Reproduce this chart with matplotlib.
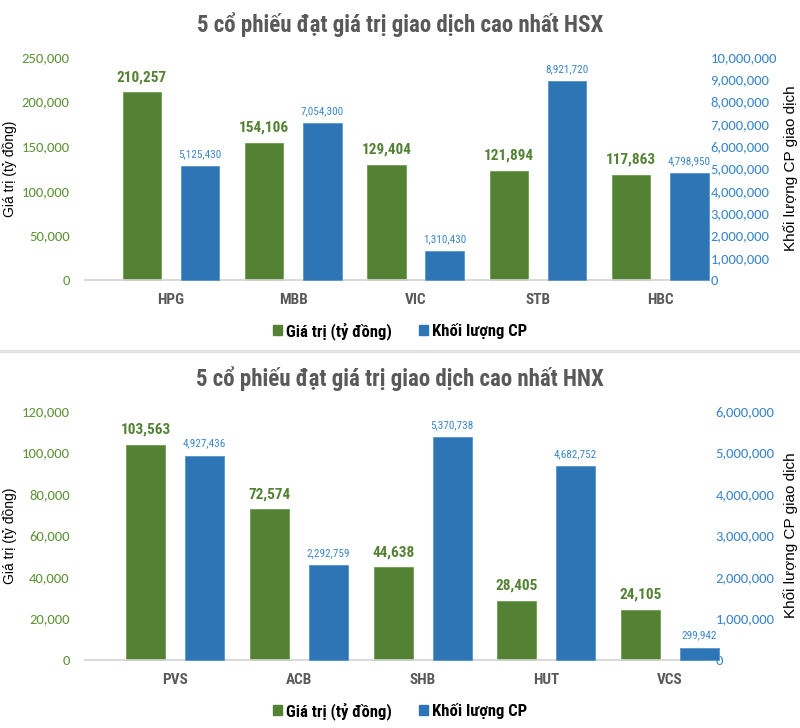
import matplotlib
matplotlib.use("Agg")
import matplotlib.pyplot as plt
from matplotlib import font_manager as fm
from matplotlib.lines import Line2D
from matplotlib.patches import Patch
import numpy as np

# HSX data
hsx_tickers = ["HPG", "MBB", "VIC", "STB", "HBC"]
hsx_value = [210257, 154106, 129404, 121894, 117863]
hsx_volume = [5125430, 7054300, 1310430, 8921720, 4798950]

# HNX data
hnx_tickers = ["PVS", "ACB", "SHB", "HUT", "VCS"]
hnx_value = [103563, 72574, 44638, 28405, 24105]
hnx_volume = [4927436, 2292759, 5370738, 4682752, 299942]

GREEN = "#548235"
BLUE = "#2E75B6"
GREEN_TXT = "#5E9438"
BLUE_TXT = "#3A86CC"
GRAY = "#595959"

installed = {f.name for f in fm.fontManager.ttflist}
NARROW = [f for f in ["Roboto Condensed", "Barlow Semi Condensed"] if f in installed] + ["DejaVu Sans"]
TICKF = [f for f in ["Carlito", "Lato"] if f in installed] + ["DejaVu Sans"]
TICK_SIZE = 10.5 if "Carlito" in installed else 9.5
ARIAL = ["Liberation Sans", "DejaVu Sans"]

W, H = 800.0, 728.0


def draw_panel(fig, left_px, right_px, top_px, base_px, first_px, step_px,
               title, title_px, tickers, values, volumes,
               left_max, left_step, right_max, right_step, legend_px):
    rect = [left_px / W, (H - base_px) / H, (right_px - left_px) / W, (base_px - top_px) / H]
    ax = fig.add_axes(rect)
    ax2 = ax.twinx()
    x = np.arange(len(tickers))
    w = 0.315
    off = 0.238

    b1 = ax.bar(x - off, values, w, color=GREEN, edgecolor="#6E9E50", linewidth=0.6,
                zorder=3, clip_on=False)
    b2 = ax2.bar(x + off, volumes, w, color=BLUE, edgecolor="#5A95CC", linewidth=0.6,
                 zorder=3, clip_on=False)

    # category centres placed like the reference
    ax.set_xlim(-(first_px - left_px) / step_px,
                (right_px - first_px) / step_px)
    ax.set_ylim(0, left_max)
    ax2.set_ylim(0, right_max)
    ax.set_yticks(np.arange(0, left_max + 1, left_step))
    ax2.set_yticks(np.arange(0, right_max + 1, right_step))
    ax.set_yticklabels([f"{int(v):,}" for v in ax.get_yticks()],
                       family=TICKF, fontsize=TICK_SIZE, color=GREEN_TXT)
    ax2.set_yticklabels([f"{int(v):,}" for v in ax2.get_yticks()],
                        family=TICKF, fontsize=TICK_SIZE, color=BLUE_TXT)
    ax.set_xticks(x)
    ax.set_xticklabels(tickers, family=NARROW, fontsize=11, fontweight="bold", color=GRAY)
    ax.tick_params(axis="both", length=0)
    ax.tick_params(axis="y", pad=11)
    ax.tick_params(axis="x", pad=9)
    ax2.tick_params(axis="y", length=0, pad=7.5)

    for a in (ax, ax2):
        for s in ("top", "left", "right"):
            a.spines[s].set_visible(False)
        a.spines["bottom"].set_color("#D9D9D9")
        a.spines["bottom"].set_linewidth(1.2)

    for r, v in zip(b1, values):
        ax.annotate(f"{v:,}", (r.get_x() + r.get_width() / 2, v),
                    xytext=(0, 6), textcoords="offset points", ha="center", va="bottom",
                    family=NARROW, fontsize=11, fontweight="bold", color=GREEN)
    for r, v in zip(b2, volumes):
        ax2.annotate(f"{v:,}", (r.get_x() + r.get_width() / 2, v),
                     xytext=(0, 5), textcoords="offset points", ha="center", va="bottom",
                     family=NARROW, fontsize=8, color=BLUE_TXT)

    span = right_px - left_px
    ax.set_ylabel("Giá trị (tỷ đồng)", family=ARIAL, fontsize=10, color="black")
    ax.yaxis.set_label_coords((17 - left_px) / span, 0.5)
    ax2.set_ylabel("Khối lượng CP giao dịch", family=ARIAL, fontsize=11, color="black")
    ax2.yaxis.set_label_coords((783 - left_px) / span, 0.5)

    fig.text(0.5, 1 - title_px / H, title, ha="center", va="center", family=NARROW,
             fontsize=16.5, fontweight="bold", color=GRAY)

    handles = [Patch(color=GREEN), Patch(color=BLUE)]
    fig.legend(handles, ["Giá trị (tỷ đồng)", "Khối lượng CP"], loc="center",
               bbox_to_anchor=(0.5, 1 - legend_px / H), ncol=2, frameon=False,
               handlelength=0.55, handleheight=0.55, handletextpad=0.25, columnspacing=1.6,
               prop={"family": NARROW, "size": 12, "weight": "bold"})
    return ax, ax2


fig = plt.figure(figsize=(W / 100, H / 100), dpi=100)

draw_panel(fig, 85, 700, 57, 280, 171, 122.3,
           "5 cổ phiếu đạt giá trị giao dịch cao nhất HSX", 25,
           hsx_tickers, hsx_value, hsx_volume, 250000, 50000, 10000000, 1000000, 331)

draw_panel(fig, 85, 705, 411, 660, 175.2, 123.7,
           "5 cổ phiếu đạt giá trị giao dịch cao nhất HNX", 379,
           hnx_tickers, hnx_value, hnx_volume, 120000, 20000, 6000000, 1000000, 711)

# separator between the two charts
fig.add_artist(Line2D([0, 1], [1 - 351 / H, 1 - 351 / H], color="#E3E3E3", linewidth=2.5))

fig.savefig("out.png", dpi=100, facecolor="white")
